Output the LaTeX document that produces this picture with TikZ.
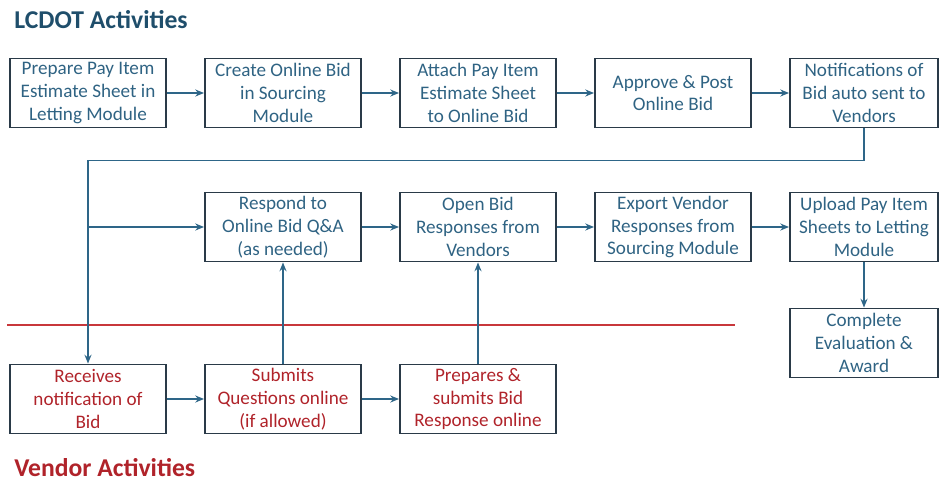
\documentclass[tikz,border=0pt]{standalone}
\usepackage{fontspec}
\setmainfont{Carlito}
\usetikzlibrary{arrows.meta}
\definecolor{lcdot}{HTML}{1F4E6B}
\definecolor{lcdottext}{HTML}{2F6383}
\definecolor{vendor}{HTML}{B0232A}
\definecolor{boxline}{HTML}{2A3A48}
\definecolor{flow}{HTML}{2E6688}
\definecolor{divider}{HTML}{C8373B}

\begin{document}
\begin{tikzpicture}[x=0.02cm,y=-0.02cm,
    >={Stealth[length=5pt,width=4pt]},
    activity/.style={draw=boxline,line width=1.1pt,minimum width=3.12cm,minimum height=1.38cm,
      inner sep=0pt,align=center,font=\fontsize{10.9}{13}\selectfont,text=lcdottext},
    narrowbox/.style={activity,minimum width=2.96cm},
    vendorbox/.style={activity,text=vendor},
    heading/.style={anchor=base west,inner sep=0pt,font=\fontsize{14.6}{16}\bfseries},
    flowline/.style={->,draw=flow,line width=0.9pt}]
			\useasboundingbox (0,0) rectangle (939,480);
			% LCDOT Activities
			\node[heading,text=lcdot] (LcdotTitle) at (14,29) {LCDOT Activities};
			\node[activity] (PreparePay) at (88,93) {Prepare Pay Item\\Estimate Sheet in\\Letting Module};
			\node[activity] (CreateBid) at (283,93) {Create Online Bid\\in Sourcing\\Module};
			\node[activity] (AttachPay) at (478,93) {Attach Pay Item\\Estimate Sheet\\to Online Bid};
			\node[activity] (ApprovePost) at (673,93) {Approve \& Post\\Online Bid};
			\node[narrowbox] (Notifications) at (864,93) {Notifications of\\Bid auto sent to\\Vendors};
			\node[activity] (RespondQA) at (283,227) {Respond to\\Online Bid Q\&A\\(as needed)};
			\node[activity] (OpenBid) at (478,227) {Open Bid\\Responses from\\Vendors};
			\node[activity] (ExportVendor) at (673,227) {Export Vendor\\Responses from\\Sourcing Module};
			\node[narrowbox] (UploadPay) at (864,227) {Upload Pay Item\\Sheets to Letting\\Module};
			\node[narrowbox] (CompleteEval) at (864,343) {Complete\\Evaluation \&\\Award};
			
			% Vendor Activities
			\node[vendorbox] (Receives) at (88,399) {Receives\\notification of\\Bid};
			\node[vendorbox] (SubmitsQ) at (283,399) {Submits\\Questions online\\(if allowed)};
			\node[vendorbox] (PreparesBid) at (478,399) {Prepares \&\\submits Bid\\Response online};
			\node[heading,text=vendor] (VendorTitle) at (14,476) {Vendor Activities};
			
			\draw[draw=divider,line width=1.2pt] (7,325) -- (735,325);
			
			\draw[flowline] (PreparePay) to (CreateBid);
			\draw[flowline] (CreateBid) to (AttachPay);
			\draw[flowline] (AttachPay) to (ApprovePost);
			\draw[flowline] (ApprovePost) to (Notifications);
			\draw[flowline] (Notifications.south) -- ++(0,32) -| (Receives.north);
			\draw[flowline] (Receives.north |- RespondQA.west) -- (RespondQA.west);
			\draw[flowline] (RespondQA) to (OpenBid);
			\draw[flowline] (OpenBid) to (ExportVendor);
			\draw[flowline] (ExportVendor) to (UploadPay);
			\draw[flowline] (UploadPay) to (CompleteEval);
			\draw[flowline] (Receives) to (SubmitsQ);
			\draw[flowline] (SubmitsQ) to (PreparesBid);
			\draw[flowline] (SubmitsQ) to (RespondQA);
			\draw[flowline] (PreparesBid) to (OpenBid);
			
			\end{tikzpicture}
\end{document}
